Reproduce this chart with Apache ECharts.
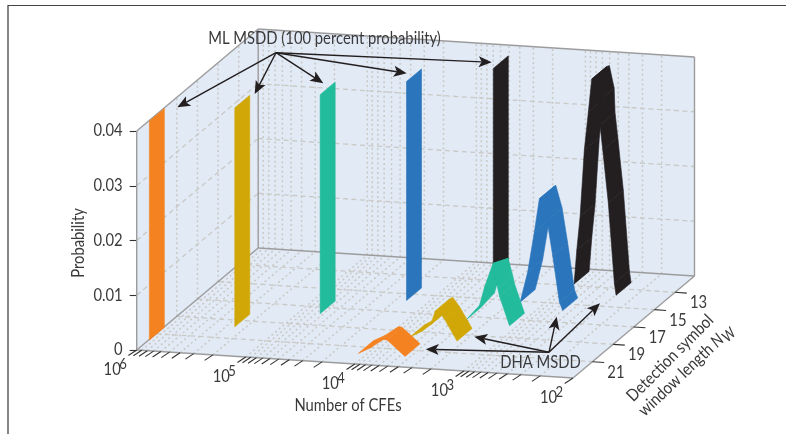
<!DOCTYPE html>
<html><head><meta charset="utf-8">
<style>html,body{margin:0;padding:0;background:#fff}#c{width:786px;height:434px}</style>
<script src="https://cdn.jsdelivr.net/npm/echarts@6/dist/echarts.min.js"></script>
</head><body><div id="c"></div>
<script>
// ---- data ----
const probTicks = [0, 0.01, 0.02, 0.03, 0.04];
const decadeTicks = [6, 5, 4, 3, 2];                 // exponent of Number of CFEs
const minorMultipliers = [2, 3, 4, 5, 6, 7, 8, 9];
const windowLengths = [13, 15, 17, 19, 21];
const ribbonNames = {13: 'black', 15: 'blue', 17: 'green', 19: 'gold', 21: 'orange'};
const ribbonColors = {13: '#231f20', 15: '#2b75bc', 17: '#22bb9b', 19: '#d0a706', 21: '#f58220'};

const mlCfe = {13: 3960, 15: 16000, 17: 64000, 19: 251000, 21: 985000};
const mlProb = [0, 0.04];

const dhaLogCfe21 = [4.078, 3.970, 3.848, 3.814, 3.649];
const dhaProb21   = [0, 0.00113, 0.00285, 0.0028, 0];
const dhaLogCfe19 = [3.796, 3.686, 3.604, 3.562, 3.536, 3.475, 3.362];
const dhaProb19   = [0.00015, 0.00139, 0.00268, 0.00521, 0.00541, 0.0038, 0];
const dhaLogCfe17 = [3.467, 3.345, 3.299, 3.221, 3.177, 3.162, 3.07];
const dhaProb17   = [0.0006, 0.00338, 0.00678, 0.01121, 0.00665, 0.00526, 0];
const dhaProb17Back = [0.0006, 0.00338, 0.00678, 0.00983, 0.00665, 0.00526, 0];
const dhaLogCfe15 = [3.162, 3.093, 3.032, 2.986, 2.972, 2.915, 2.864, 2.802, 2.772];
const dhaProb15   = [0.00104, 0.00661, 0.01399, 0.02015, 0.02029, 0.01627, 0.00995, 0.0015, 0];
const dhaLogCfe13 = [2.857, 2.832, 2.802, 2.763, 2.726, 2.695, 2.671, 2.627, 2.619, 2.594, 2.543, 2.488, 2.472];
const dhaProb13   = [0.00157, 0.00782, 0.01394, 0.02617, 0.03315, 0.03922, 0.03938, 0.03536, 0.0309, 0.02638, 0.01677, 0.00223, 0];
const dhaLog = {13: dhaLogCfe13, 15: dhaLogCfe15, 17: dhaLogCfe17, 19: dhaLogCfe19, 21: dhaLogCfe21};
const dhaProb = {13: dhaProb13, 15: dhaProb15, 17: dhaProb17, 19: dhaProb19, 21: dhaProb21};
const dhaProbBack = {13: dhaProb13, 15: dhaProb15, 17: dhaProb17Back, 19: dhaProb19, 21: dhaProb21};

// ---- oblique 3D layout ----
const FONT = 'Lato,"Open Sans",sans-serif';
const FONT_SIZE = 17, SQUEEZE = 0.87;
const TEXT = '#3a3a3c', WALL = '#e2eaf6', EDGE = '#9c9c9c', GRID = '#c9c9c5';
const plot = {left: 136.7, top: 131, width: 436.3, height: 219};
const shearY = 28, depthX = 121.5, depthY = -102;
const depthOfN = N => 0.16 + 0.085 * (21 - N);
const N_FRONT = 21 + 0.16 / 0.085, N_BACK = 21 - 0.84 / 0.085, RIBBON_HALF = 0.726;
const CFE_MIN = 100, CFE_MAX = 1e6;

function project(api, cfe, N, p) {
  const c = api.coord([cfe, p]);
  const u = (c[0] - plot.left) / plot.width, v = depthOfN(N);
  return [c[0] + depthX * v, c[1] + shearY * u + depthY * v];
}
const dashed = {stroke: GRID, lineWidth: 1.3, lineDash: [5, 3.5], fill: null};
const dotted = {stroke: GRID, lineWidth: 1.5, lineDash: [2, 2.8], fill: null};
const edge = {stroke: EDGE, lineWidth: 1.4, fill: null};
const tickStyle = {stroke: '#333', lineWidth: 1.1, fill: null};
const seg = (a, b, style) => ({type: 'line', shape: {x1: a[0], y1: a[1], x2: b[0], y2: b[1]}, style});
const poly = (pts, fill) => ({type: 'polygon', shape: {points: pts}, style: {fill}});
const label = (text, x, y, size, align) => ({type: 'text', x, y, scaleX: SQUEEZE, style: {
  text, fontFamily: FONT, fontSize: size, fill: TEXT, align: align || 'center', verticalAlign: 'middle'}});

function minorCfes() {
  const out = [];
  decadeTicks.forEach(e => {
    out.push(Math.pow(10, e));
    if (e > 2) minorMultipliers.forEach(m => out.push(m * Math.pow(10, e - 1)));
  });
  return out;
}

function renderScene(params, api) {
  const P = (c, n, p) => project(api, c, n, p);
  const top = probTicks[probTicks.length - 1];
  const ch = [];
  ch.push(poly([P(CFE_MAX, N_FRONT, 0), P(CFE_MAX, N_FRONT, top), P(CFE_MAX, N_BACK, top), P(CFE_MAX, N_BACK, 0)], WALL));
  ch.push(poly([P(CFE_MAX, N_BACK, 0), P(CFE_MAX, N_BACK, top), P(CFE_MIN, N_BACK, top), P(CFE_MIN, N_BACK, 0)], WALL));
  ch.push(poly([P(CFE_MAX, N_FRONT, 0), P(CFE_MAX, N_BACK, 0), P(CFE_MIN, N_BACK, 0), P(CFE_MIN, N_FRONT, 0)], WALL));
  const cfes = minorCfes();
  cfes.forEach(c => {
    if (c === CFE_MAX || c === CFE_MIN) return;
    ch.push(seg(P(c, N_BACK, 0), P(c, N_BACK, top), dotted));
    ch.push(seg(P(c, N_FRONT, 0), P(c, N_BACK, 0), dotted));
  });
  windowLengths.forEach(n => {
    ch.push(seg(P(CFE_MAX, n, 0), P(CFE_MAX, n, top), dotted));
    ch.push(seg(P(CFE_MAX, n, 0), P(CFE_MIN, n, 0), dashed));
  });
  probTicks.slice(1, -1).forEach(p => {
    ch.push(seg(P(CFE_MAX, N_FRONT, p), P(CFE_MAX, N_BACK, p), dashed));
    ch.push(seg(P(CFE_MAX, N_BACK, p), P(CFE_MIN, N_BACK, p), dashed));
  });
  ch.push(seg(P(CFE_MAX, N_FRONT, 0), P(CFE_MAX, N_FRONT, top), edge));
  ch.push(seg(P(CFE_MAX, N_FRONT, top), P(CFE_MAX, N_BACK, top), edge));
  ch.push(seg(P(CFE_MAX, N_BACK, top), P(CFE_MIN, N_BACK, top), edge));
  ch.push(seg(P(CFE_MIN, N_BACK, top), P(CFE_MIN, N_BACK, 0), edge));
  ch.push(seg(P(CFE_MAX, N_BACK, 0), P(CFE_MAX, N_BACK, top), edge));
  ch.push(seg(P(CFE_MAX, N_FRONT, 0), P(CFE_MAX, N_BACK, 0), edge));
  ch.push(seg(P(CFE_MAX, N_BACK, 0), P(CFE_MIN, N_BACK, 0), edge));
  ch.push(seg(P(CFE_MIN, N_BACK, 0), P(CFE_MIN, N_FRONT, 0), edge));
  ch.push(seg(P(CFE_MIN, N_FRONT, 0), P(CFE_MAX, N_FRONT, 0), edge));
  cfes.forEach(c => {
    const a = P(c, N_FRONT, 0);
    ch.push(seg(a, [a[0] - 8.3, a[1] + 5.5], tickStyle));
  });
  decadeTicks.forEach(e => {
    const a = P(Math.pow(10, e), N_FRONT, 0);
    ch.push(label('10', a[0] - 24.5, a[1] + 20, FONT_SIZE));
    ch.push(label(String(e), a[0] - 13.7, a[1] + 14, 15));
  });
  windowLengths.forEach(n => {
    const a = P(CFE_MIN, n, 0);
    ch.push(seg(a, [a[0] + 11.7, a[1] + 0.8], tickStyle));
    ch.push(label(String(n), a[0] + 23.5, a[1] + 10.5, FONT_SIZE));
  });
  probTicks.forEach(p => {
    const a = api.coord([CFE_MAX, p]);
    ch.push(label(String(p), a[0] - 14, a[1], FONT_SIZE, 'right'));
  });
  return {type: 'group', children: ch};
}

function ribbonSeries(name, color, cfe, prob, probBack, N, z) {
  return {
    name, type: 'custom', coordinateSystem: 'cartesian2d', clip: false, silent: true, animation: false, z,
    data: cfe.map((c, i) => [c, prob[i]]),
    renderItem(params, api) {
      const i = params.dataIndex;
      if (i === 0) return null;
      const f0 = project(api, cfe[i - 1], N + RIBBON_HALF, prob[i - 1]);
      const b0 = project(api, cfe[i - 1], N - RIBBON_HALF, probBack[i - 1]);
      const f1 = project(api, cfe[i], N + RIBBON_HALF, prob[i]);
      const b1 = project(api, cfe[i], N - RIBBON_HALF, probBack[i]);
      return {type: 'polygon', shape: {points: [f0, f1, b1, b0]},
        style: {fill: color, stroke: color, lineWidth: 0.6}};
    }
  };
}

const series = [{
  name: 'scene', type: 'custom', coordinateSystem: 'cartesian2d', clip: false, silent: true, animation: false, z: 1,
  data: [[CFE_MAX, 0]], renderItem: renderScene
}];
windowLengths.forEach((N, k) => {
  series.push(ribbonSeries('ML MSDD ' + ribbonNames[N], ribbonColors[N], [mlCfe[N], mlCfe[N]], mlProb, mlProb, N, 10 + 2 * k));
  series.push(ribbonSeries('DHA MSDD ' + ribbonNames[N], ribbonColors[N], dhaLog[N].map(l => Math.pow(10, l)), dhaProb[N], dhaProbBack[N], N, 11 + 2 * k));
});

// ---- annotations ----
const mlSource = [276, 52.7];
const mlTargets = [[177.3, 107.3], [254.7, 94], [323.3, 83.3], [406.7, 73.3], [491.7, 62.3]];
const dhaSource = [549, 352.3];
const dhaTargets = [[425.7, 349.3], [474.3, 336.7], [556.7, 316.7], [600, 303.3]];
function arrow(from, to) {
  const dx = to[0] - from[0], dy = to[1] - from[1], L = Math.hypot(dx, dy), ux = dx / L, uy = dy / L;
  const len = 13, hw = 5.5, notch = 10;
  const base = [to[0] - ux * notch, to[1] - uy * notch];
  return [
    {type: 'line', z: 50, shape: {x1: from[0], y1: from[1], x2: base[0], y2: base[1]}, style: {stroke: '#231f20', lineWidth: 1.4}},
    {type: 'polygon', z: 51, shape: {points: [to,
      [to[0] - ux * len - uy * hw, to[1] - uy * len + ux * hw], base,
      [to[0] - ux * len + uy * hw, to[1] - uy * len - ux * hw]]}, style: {fill: '#231f20'}}
  ];
}
const gtext = (text, x, y, rotation) => ({type: 'text', z: 60, x, y, rotation: rotation || 0, scaleX: SQUEEZE, style: {
  text, fontFamily: FONT, fontSize: FONT_SIZE, fill: TEXT, align: 'center', verticalAlign: 'middle'}});
const elements = [
  {type: 'line', z: 5, shape: {x1: 8, y1: 5, x2: 8, y2: 434}, style: {stroke: '#858585', lineWidth: 2}},
  {type: 'line', z: 5, shape: {x1: 8, y1: 5.5, x2: 786, y2: 5.5}, style: {stroke: '#444', lineWidth: 1}}
];
mlTargets.forEach(t => elements.push(...arrow(mlSource, t)));
dhaTargets.forEach(t => elements.push(...arrow(dhaSource, t)));
const TILT = 0.76;
elements.push(
  gtext('ML MSDD (100 percent probability)', 324.5, 39),
  gtext('DHA MSDD', 540.5, 363),
  gtext('Number of CFEs', 348, 406),
  gtext('Probability', 79, 243, Math.PI / 2),
  gtext('Detection symbol', 670, 358, Math.PI / 4),
  {type: 'text', z: 60, x: 681, y: 375, rotation: TILT, scaleX: SQUEEZE, style: {
    text: 'window length {n|N}', fontFamily: FONT, fontSize: FONT_SIZE, fill: TEXT, align: 'center', verticalAlign: 'middle',
    rich: {n: {fontFamily: FONT, fontSize: FONT_SIZE, fontStyle: 'italic', fill: TEXT}}}},
  {type: 'text', z: 60, x: 729, y: 335, rotation: TILT, scaleX: SQUEEZE, style: {
    text: 'W', fontFamily: FONT, fontSize: 15, fontStyle: 'italic', fill: TEXT, align: 'center', verticalAlign: 'middle'}}
);

const chart = echarts.init(document.getElementById('c'), null, {renderer: 'canvas', width: 786, height: 434});
chart.setOption({
  animation: false,
  backgroundColor: '#fff',
  grid: {left: plot.left, top: plot.top, width: plot.width, height: plot.height, containLabel: false},
  xAxis: {type: 'log', logBase: 10, min: CFE_MIN, max: CFE_MAX, inverse: true, show: false},
  yAxis: {type: 'value', min: 0, max: probTicks[probTicks.length - 1], interval: 0.01,
    axisLine: {show: false}, splitLine: {show: false},
    axisTick: {show: true, length: 7, lineStyle: {color: '#333', width: 1.1}},
    axisLabel: {show: false}},
  series,
  graphic: {elements}
});
</script></body></html>
